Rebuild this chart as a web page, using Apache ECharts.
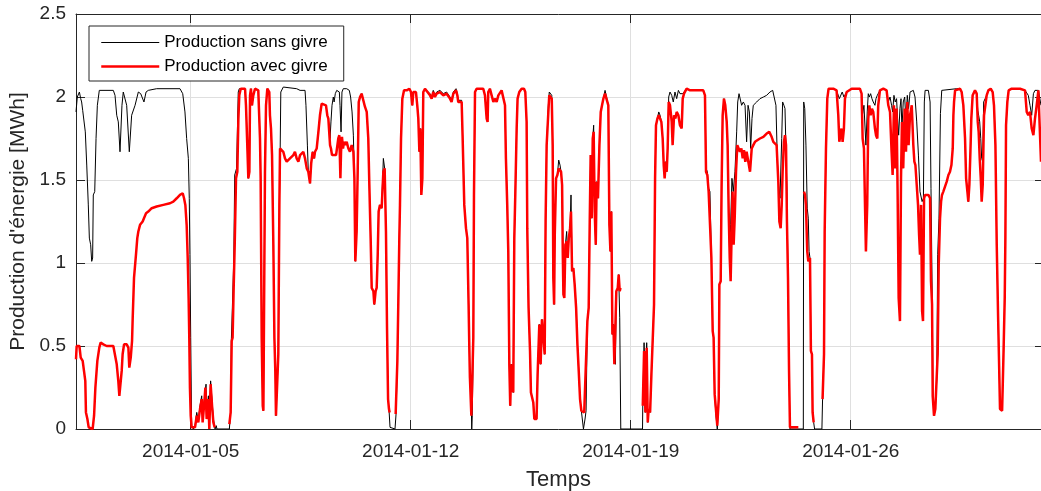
<!DOCTYPE html>
<html>
<head>
<meta charset="utf-8">
<script src="https://cdn.jsdelivr.net/npm/echarts@6/dist/echarts.min.js"></script>
<style>html,body{margin:0;padding:0;background:#fff}#c{width:1041px;height:491px}</style>
</head>
<body>
<div id="c"></div>
<script>
// Hours since 2014-01-01 00:00, value in MWh
const tickDates = ['2014-01-05', '2014-01-12', '2014-01-19', '2014-01-26'];
const yTicks = [0, 0.5, 1, 1.5, 2, 2.5];

const sansGivre = [
[8.4,1.91],[9.4,2.00],[11.0,2.03],[12.0,1.99],[12.7,1.97],[13.5,1.92],[14.8,1.91],[15.5,1.79],[16.6,1.59],[17.8,1.35],[18.6,1.15],[19.6,1.11],[20.4,1.01],[21.1,1.03],[21.6,1.41],[22.7,1.43],[23.7,1.75],[24.7,1.95],[26.2,2.04],[36.9,2.04],[38.2,2.01],[39.5,1.89],[40.7,1.85],[42.0,1.67],[42.8,1.66],[43.5,1.95],[44.5,2.03],[45.8,2.02],[47.1,1.95],[48.4,1.95],[49.1,1.67],[49.9,1.67],[50.9,1.89],[53.5,1.95],[56.0,2.03],[57.8,2.02],[59.3,2.01],[60.3,1.97],[61.9,2.03],[63.6,2.04],[70.0,2.05],[87.8,2.05],[89.9,2.02],[91.6,1.91],[92.9,1.75],[94.2,1.63],[94.9,1.39],[95.4,1.05],[96.0,0.55],[96.7,0.02],[98.0,0],
[99.3,0.02],[100.6,0.10],[101.8,0.05],[103.1,0.14],[104.4,0.20],[105.1,0.05],[106.2,0.16],[107.7,0.27],[108.2,0.08],[109.5,0.20],[110.2,0.01],[111.2,0.29],[112.3,0.30],[113.3,0.06],[114.6,0],[115.5,0.02],[116.0,0],[125.5,0],[126.5,0.10],[127.0,0.53],[127.8,0.73],[128.9,1.03],[129.6,1.53],[131.0,1.57],[132.3,2.03],[133.1,2.05],[137.5,2.05],[138.2,1.95],[139.2,1.71],[140.0,1.51],[140.8,1.55],[141.3,2.01],[142.0,2.05],[142.8,1.95],[143.8,2.01],[145.1,2.05],[147.6,2.04],[148.9,1.75],[149.4,1.51],[150.2,0.55],[151.0,0.14],[151.5,0.11],[152.0,0.12],[152.7,1.55],[153.5,1.95],[154.5,2.05],[156.0,2.03],[156.5,1.89],[157.3,1.81],[158.1,1.65],[159.1,1.11],[159.9,0.55],[160.6,0.35],[161.1,0.08],[162.4,0.08],[162.9,0.45],[163.7,1.35],[164.2,1.60],[164.8,2.03],[165.5,2.04],[166.7,2.06],[176.9,2.05],[179.5,2.04],[183.3,2.04],[184.0,1.95],[185.1,1.71],[185.8,1.55],[187.1,1.48],
[188.0,1.60],[189.1,1.67],[190.2,1.63],[190.9,1.67],[192.2,1.69],[193.5,1.79],[194.7,1.89],[196.0,1.96],[197.3,1.97],[199.3,1.95],[200.3,1.89],[201.1,1.87],[202.4,1.75],[203.1,1.85],[203.9,1.95],[204.9,2.00],[205.5,1.97],[206.4,2.02],[207.5,2.04],[208.7,2.05],[209.5,2.03],[210.0,1.95],[210.8,1.79],[211.5,2.03],[212.5,2.05],[215.1,2.05],[217.1,2.04],[218.1,2.00],[219.2,1.91],[220.2,1.77],[221.0,1.51],[221.7,1.01],[222.7,1.19],[223.5,1.55],[224.3,1.97],[225.3,2.00],[226.5,2.02],[227.8,2.01],[229.1,1.94],[230.4,1.91],[231.6,1.75],[232.4,1.47],[233.4,1.15],[234.2,0.85],[235.5,0.83],[236.2,0.75],[237.2,0.83],[238.0,0.85],[238.8,1.05],[239.5,1.31],[240.5,1.35],[241.8,1.33],[243.1,1.63],[244.1,1.57],[245.1,1.19],[245.9,0.61],[246.7,0.18],[247.4,0.12],[248.2,0.01],[252.0,0],[252.8,0.09],[253.8,0.41],[254.5,0.75],[255.3,1.15],[255.8,1.35],[256.6,1.75],[257.6,1.99],[258.9,2.04],[260.9,2.04],[263.0,2.05],[264.2,2.03],[265.2,1.95],[266.0,2.03],[268.0,2.03],[269.0,1.95],[269.8,1.87],[270.6,1.67],[271.3,1.81],[272.1,1.41],[272.9,1.51],[273.6,2.03],[274.9,2.05],
[278.7,2.02],[280.0,2.00],[281.2,2.04],[282.5,2.01],[283.8,2.03],[286.3,2.04],[288.9,2.02],[291.4,2.03],[294.0,2.00],[295.2,1.98],[296.5,2.03],[298.6,2.05],[299.6,2.02],[300.3,1.98],[301.6,1.97],[302.9,1.98],[303.6,1.77],[304.9,1.35],[306.2,1.21],[307.2,1.15],[308.2,0.75],[308.7,0.51],[309.2,0.31],[310.3,0.12],[310.6,0],[311.0,0.08],[311.8,0.55],[312.3,1.41],[313.1,2.03],[314.3,2.05],[319.4,2.05],[320.7,2.01],[322.0,1.87],[322.7,1.85],[323.2,2.03],[324.5,2.05],[325.8,2.01],[327.1,1.97],[328.3,1.99],[329.6,1.97],[330.9,2.01],[332.1,2.02],[333.4,2.04],[334.7,2.03],[336.0,1.95],[336.7,1.63],[337.7,1.35],[338.5,1.07],[339.3,0.39],[340.0,0.14],[340.8,0.39],[341.6,0.27],[342.3,0.22],[343.1,1.15],[343.9,1.43],[344.9,1.81],[345.6,1.99],[346.9,2.03],[348.7,2.05],[350.5,2.05],[351.5,2.03],[352.5,1.85],[353.0,1.21],[354.0,0.73],[355.1,0.47],[355.8,0.22],[357.6,0.16],[358.4,0.06],[360.1,0.06],[360.9,0.33],[362.2,0.63],[363.2,0.39],[364.2,0.66],[365.2,0.65],[366.3,0.45],[367.0,1.25],[367.8,1.71],[369.1,1.95],[369.8,2.03],
[370.4,2.03],[371.7,2.01],[372.4,1.71],[372.9,0.91],[373.5,0.75],[374.0,1.17],[375.0,1.51],[376.0,1.53],[377.0,1.62],[378.0,1.59],[378.8,1.55],[379.6,1.47],[380.1,1.07],[380.6,0.81],[381.3,0.79],[382.1,1.11],[383.1,1.19],[383.9,1.03],[384.7,1.15],[385.7,1.21],[386.4,1.41],[387.2,0.95],[388.2,0.97],[389.2,0.87],[390.3,0.73],[391.3,0.51],[392.3,0.35],[393.3,0.18],[394.3,0.11],[395.1,0.11],[395.9,0],[397.1,0.06],[397.9,0.11],[398.9,0.65],[399.9,0.73],[400.7,1.25],[401.4,1.65],[402.2,1.27],[403.0,1.75],[403.7,1.83],[404.5,1.31],[405.3,1.11],[406.0,1.49],[407.0,1.39],[408.1,1.71],[409.1,1.91],[410.1,1.95],[411.1,1.99],[412.4,2.04],[413.7,2.03],[414.9,1.95],[415.7,1.23],[416.5,1.07],[417.2,1.31],[418.0,0.57],[418.8,0.63],[419.5,0.45],[420.3,0.39],[421.0,0.83],[422.1,0.85],[422.8,0.93],[423.6,0.67],[424.4,0],[441.0,0],[441.2,0.14],[442.2,0.52],[443.2,0.10],[444.2,0.52],[445.0,0.04],[445.7,0.12],[446.8,0.10],[447.8,0.33],[448.8,0.33],[449.8,0.75],[450.6,1.51],[451.3,1.83],[452.4,1.87],[453.4,1.91],[454.4,1.89],[455.4,1.85],[456.4,1.75],[457.2,1.59],[457.9,1.53],[458.7,1.61],[459.5,1.55],[460.2,1.69],[461.0,2.00],
[462.0,2.03],[463.3,2.01],[464.5,1.97],[465.8,2.03],[467.1,1.99],[468.4,2.04],[469.6,2.02],[470.9,2.01],[471.7,2.02],[472.7,2.03],[474.7,2.05],[476.0,2.05],[477.3,2.04],[487.4,2.04],[488.7,2.01],[489.5,1.57],[490.5,1.55],[491.5,1.45],[492.5,1.43],[493.6,1.03],[494.6,0.59],[495.3,0.55],[496.1,0.21],[497.1,0.08],[498.1,0],[499.2,0.18],[499.7,0.87],[500.7,0.89],[501.4,1.47],[502.2,1.89],[503.2,1.99],[504.2,1.95],[505.3,1.85],[506.0,1.71],[506.8,1.31],[507.6,1.03],[508.3,1.23],[509.3,1.51],[510.3,1.43],[511.6,1.55],[512.9,1.79],[513.7,1.97],[514.7,2.02],[515.4,2.01],[516.7,1.95],[518.0,1.97],[519.3,1.95],[520.5,1.73],[521.6,1.95],[522.6,1.91],[523.6,1.69],[524.6,1.87],[525.6,1.95],[526.9,1.96],[528.2,1.97],[530.7,1.99],[533.3,2.00],[535.8,2.01],[538.3,2.03],[540.4,2.04],[541.7,2.03],[542.9,1.95],[544.0,1.61],[545.0,1.47],[546.0,1.39],[547.3,1.75],[548.0,1.97],[549.0,1.95],[549.8,1.93],[550.6,1.67],[551.3,1.43],[552.1,0.91],[552.9,0.35],[553.6,0],
[563.8,0],[564.1,1.97],[564.9,1.93],[565.8,1.71],[566.8,1.33],[567.6,1.27],[568.2,1.07],[568.9,1.03],[569.6,0.47],[570.4,0.45],[570.9,0.10],[571.7,0.04],[572.4,0],[578.0,0],[578.5,0.18],[579.6,0.45],[580.1,1.19],[581.1,1.69],[582.1,1.99],[583.1,2.05],[586.7,2.05],[589.2,2.04],[590.5,2.03],[591.3,1.99],[592.3,2.00],[593.5,2.03],[594.8,2.00],[595.6,2.01],[596.9,2.03],[598.1,2.04],[600.7,2.05],[607.0,2.05],[608.3,2.02],[609.1,1.90],[610.1,1.95],[610.9,1.95],[611.6,1.71],[612.6,1.91],[613.4,2.02],[614.2,2.00],[615.2,2.02],[616.2,1.99],[617.2,1.97],[618.5,1.95],[619.3,1.99],[620.3,2.01],[621.0,2.02],[622.3,2.04],[624.9,2.05],[627.4,2.04],[628.7,1.97],[630.0,2.00],[631.2,1.95],[632.0,1.91],[633.0,2.01],[634.0,1.97],[635.0,1.99],[635.8,1.87],[636.6,1.77],[637.6,1.93],[638.4,1.99],[639.1,1.81],[640.1,1.97],[641.2,2.00],[642.2,1.85],[643.2,2.01],[644.2,1.93],
[645.3,2.03],[647.8,2.04],[649.1,2.00],[650.4,1.85],[651.7,1.65],[652.9,1.43],[654.5,1.37],[655.5,1.39],[656.2,1.97],[656.8,2.04],[659.3,2.04],[660.6,1.97],[661.3,1.45],[662.3,0.75],[662.8,0.20],[663.6,0.08],[664.6,0.12],[665.7,0.30],[666.4,1.05],[667.4,1.27],[668.5,1.90],[669.5,2.04],[670.7,2.05],[680.9,2.05],[683.5,2.05],[684.7,2.03],[686.0,1.95],[687.3,1.75],[688.1,1.51],[689.1,1.43],[689.8,1.37],[690.6,1.47],[691.4,1.67],[692.1,1.87],[693.1,2.01],[694.9,2.04],[696.2,2.02],[697.0,1.92],[697.7,1.89],[698.5,1.85],[699.3,1.75],[700.0,1.63],[700.8,1.61],[701.5,1.97],[702.8,1.98],[703.8,2.01],[705.1,2.04],[706.9,2.05],[708.4,2.03],[709.4,1.95],[710.5,1.71],[711.5,1.11],[712.5,0.69],[713.3,0.39],[714.0,0.12],[715.6,0.11],[716.6,0.43],[717.6,0.79],[718.1,1.15],[718.6,1.83],[719.6,1.97],[720.6,2.04],[722.9,2.05],[729.3,2.05],[733.1,2.04],[734.4,2.03],[735.6,2.01],[736.9,1.95],[738.2,1.89],[739.5,2.02],[740.7,2.04],[742.0,2.03],[743.3,2.04],[744.6,2.03],[745.3,1.95]
];

const avecGivre = [
[8.4,0.42],[8.9,0.50],[11.0,0.50],[12.0,0.43],[13.5,0.41],[14.5,0.35],[15.5,0.29],[16.0,0.10],[17.1,0.06],[18.1,0.01],[19.1,0],[21.1,0],[22.2,0.08],[23.2,0.25],[24.7,0.41],[26.2,0.49],[27.2,0.52],[29.3,0.51],[31.8,0.50],[36.9,0.50],[38.4,0.49],[39.5,0.39],[40.7,0.29],[41.5,0.20],[42.5,0.19],[43.3,0.35],[44.0,0.45],[45.1,0.51],[47.1,0.51],[48.4,0.49],[49.1,0.37],[50.2,0.43],[51.2,0.53],[51.7,0.67],[52.7,0.91],[54.2,1.05],[55.2,1.15],[56.0,1.19],[57.3,1.23],[59.3,1.25],[60.3,1.27],[61.9,1.30],[63.6,1.31],[66.2,1.33],[70.0,1.34],[75.1,1.35],[80.2,1.36],[82.7,1.37],[85.3,1.39],[87.8,1.41],[89.9,1.42],[90.9,1.39],[91.9,1.35],[92.9,1.23],[93.7,1.03],[94.4,0.79],[94.9,0.55],[95.4,0.25],[96.0,0.08],[96.7,0.01],
[98.0,0],[99.3,0.01],[100.6,0.08],[101.8,0.04],[103.1,0.12],[104.4,0.18],[105.1,0.04],[106.2,0.14],[107.2,0.25],[108.2,0.06],[109.5,0.18],[110.2,0],[111.2,0.27],[112.3,0.14],[113.3,0.04],[114.3,0.01],[115.0,null],[125.5,0.03],[126.5,0.10],[127.3,0.53],[128.0,0.55],[128.8,0.85],[129.6,1.11],[130.6,1.51],[131.6,1.55],[132.4,1.87],[133.1,2.01],[134.2,2.05],[137.5,2.05],[138.2,1.95],[139.2,1.71],[140.0,1.51],[140.8,1.55],[141.3,2.01],[142.0,2.05],[142.8,1.95],[143.8,2.01],[145.1,2.05],[147.6,2.04],[148.9,1.75],[149.4,1.51],[150.2,0.55],[151.0,0.14],[151.5,0.11],[152.0,0.12],[152.7,1.55],[153.5,1.95],[154.5,2.05],[156.0,2.03],[156.5,1.89],[157.3,1.81],[158.1,1.65],[159.1,1.11],[159.9,0.55],[160.6,0.35],[161.1,0.08],[162.4,0.08],[162.9,0.45],[163.7,1.35],[164.2,1.69],[165.5,1.69],[166.7,1.67],[168.0,1.63],[169.3,1.61],[171.8,1.63],[174.4,1.65],[175.6,1.67],[176.9,1.63],[178.2,1.61],[179.5,1.65],[182.0,1.67],[183.3,1.63],[184.6,1.57],[185.8,1.55],[187.1,1.48],
[188.0,1.60],[189.1,1.67],[190.2,1.63],[190.9,1.67],[192.2,1.69],[193.5,1.79],[194.7,1.89],[196.0,1.96],[197.3,1.97],[199.3,1.95],[200.3,1.89],[201.1,1.87],[202.4,1.71],[203.1,1.69],[203.9,1.65],[205.4,1.64],[207.0,1.65],[208.0,1.66],[208.7,1.75],[209.5,1.77],[210.3,1.51],[210.8,1.67],[211.5,1.76],[212.3,1.69],[213.1,1.73],[214.1,1.71],[215.1,1.73],[216.4,1.69],[217.6,1.67],[218.9,1.71],[220.2,1.67],[221.0,1.51],[221.7,1.01],[222.7,1.19],[223.5,1.55],[224.3,1.97],[225.3,2.00],[226.5,2.02],[227.8,2.01],[229.1,1.94],[230.4,1.91],[231.6,1.75],[232.4,1.47],[233.4,1.15],[234.2,0.85],[235.5,0.83],[236.2,0.75],[237.2,0.83],[238.0,0.85],[238.8,1.05],[239.5,1.31],[240.5,1.35],[241.8,1.33],[243.1,1.55],[244.1,1.57],[245.1,1.19],[245.9,0.61],[246.7,0.18],[247.4,0.12],[247.9,0.10],[248.5,null],[252.5,0.09],[252.8,0.09],[253.8,0.41],[254.5,0.75],[255.3,1.15],[255.8,1.35],[256.6,1.75],[257.6,1.99],[258.9,2.04],[260.9,2.04],[263.0,2.05],[264.2,2.03],[265.2,1.95],[266.0,2.03],[268.0,2.03],[269.0,1.95],[269.8,1.87],[270.6,1.67],[271.3,1.81],[272.1,1.41],[272.9,1.51],[273.6,2.03],[274.9,2.05],
[278.7,2.01],[280.0,1.99],[281.2,2.03],[282.5,2.00],[283.8,2.02],[286.3,2.03],[288.9,2.01],[291.4,2.02],[294.0,1.99],[295.2,1.97],[296.5,2.02],[298.6,2.04],[299.6,2.01],[300.3,1.97],[301.6,1.96],[302.9,1.97],[303.6,1.77],[304.9,1.35],[306.2,1.21],[307.2,1.15],[308.2,0.75],[308.7,0.51],[309.2,0.31],[310.3,0.08],[311.0,0.08],[311.8,0.55],[312.3,1.41],[313.1,2.03],[314.3,2.05],[319.4,2.05],[320.7,2.01],[322.0,1.87],[322.7,1.85],[323.2,2.03],[324.5,2.05],[325.8,2.01],[327.1,1.97],[328.3,1.99],[329.6,1.97],[330.9,2.01],[332.1,2.02],[333.4,2.04],[334.7,2.03],[336.0,1.95],[336.7,1.63],[337.7,1.35],[338.5,1.07],[339.3,0.39],[340.0,0.14],[340.8,0.39],[341.6,0.27],[342.3,0.22],[343.1,1.15],[343.9,1.43],[344.9,1.81],[345.6,1.99],[346.9,2.03],[348.7,2.05],[350.5,2.05],[351.5,2.03],[352.5,1.85],[353.0,1.21],[354.0,0.73],[355.1,0.47],[355.8,0.22],[357.6,0.16],[358.4,0.06],[360.1,0.06],[360.9,0.33],[362.2,0.63],[363.2,0.39],[364.2,0.66],[365.2,0.65],[366.3,0.45],[367.0,1.25],[367.8,1.71],[369.1,1.91],[369.8,2.01],
[370.4,2.00],[371.7,1.99],[372.4,1.71],[372.9,0.91],[373.5,0.75],[374.0,1.17],[375.0,1.51],[376.0,1.53],[377.0,1.57],[378.0,1.57],[378.8,1.55],[379.6,1.47],[380.1,1.07],[380.6,0.81],[381.3,0.79],[382.1,1.11],[383.1,1.13],[383.9,1.03],[384.7,1.15],[385.7,1.21],[386.4,1.31],[387.2,0.95],[388.2,0.97],[389.2,0.87],[390.3,0.73],[391.3,0.51],[392.3,0.35],[393.3,0.18],[394.3,0.11],[395.1,0.11],[396.5,0.10],[397.9,0.11],[398.9,0.65],[399.9,0.73],[400.7,1.25],[401.4,1.65],[402.2,1.27],[403.0,1.75],[403.7,1.79],[404.5,1.31],[405.3,1.11],[406.0,1.49],[407.0,1.39],[408.1,1.71],[409.1,1.91],[410.1,1.95],[411.1,1.99],[412.4,2.02],[413.7,2.02],[414.9,1.95],[415.7,1.23],[416.5,1.07],[417.2,1.31],[418.0,0.57],[418.8,0.63],[419.5,0.39],[420.3,0.39],[421.0,0.83],[422.1,0.85],[422.8,0.93],[423.6,0.83],[424.2,0.85],[424.5,null],[441.2,0.14],[442.2,0.47],[443.2,0.10],[444.2,0.49],[445.0,0.04],[445.7,0.12],[446.8,0.10],[447.8,0.33],[448.8,0.33],[449.8,0.75],[450.6,1.51],[451.3,1.83],[452.4,1.87],[453.4,1.89],[454.4,1.87],[455.4,1.85],[456.4,1.75],[457.2,1.59],[457.9,1.51],[458.7,1.61],[459.5,1.55],[460.2,1.69],[461.0,1.97],
[462.0,1.95],[463.3,1.85],[464.0,1.71],[465.1,1.89],[466.1,1.87],[467.1,1.91],[468.4,1.89],[469.6,1.83],[470.9,1.81],[471.7,1.99],[472.7,2.02],[474.7,2.05],[476.0,2.05],[477.3,2.04],[487.4,2.04],[488.7,2.01],[489.5,1.55],[490.5,1.53],[491.5,1.43],[492.5,1.43],[493.6,1.03],[494.6,0.59],[495.3,0.55],[496.1,0.21],[497.1,0.21],[498.1,0.02],[499.2,0.18],[499.7,0.87],[500.7,0.89],[501.4,1.47],[502.2,1.89],[503.2,1.99],[504.2,1.95],[505.3,1.85],[506.0,1.71],[506.8,1.31],[507.6,1.03],[508.3,0.89],[509.1,1.19],[509.8,1.43],[510.6,1.11],[511.4,1.27],[512.4,1.55],[513.4,1.71],[514.4,1.69],[515.4,1.67],[516.5,1.69],[517.5,1.63],[518.5,1.68],[519.5,1.61],[520.5,1.67],[521.8,1.61],[523.1,1.55],[524.4,1.69],[525.6,1.71],[526.9,1.73],[528.2,1.74],[530.7,1.75],[533.3,1.76],[535.8,1.78],[537.8,1.79],[539.6,1.76],[540.9,1.73],[542.2,1.72],[543.4,1.71],[544.7,1.49],[545.5,1.25],[546.5,1.21],[547.3,1.35],[548.0,1.55],[549.0,1.73],[549.8,1.77],[550.6,1.71],[551.3,1.25],[552.1,0.91],[552.9,0.35],[553.6,0.01],[557.0,0.01],[560.0,0.01],[560.5,null],
[564.3,1.43],[565.1,1.41],[565.8,1.35],[566.8,1.07],[567.6,1.01],[568.9,1.03],[569.6,0.47],[570.4,0.45],[570.9,0.10],[571.7,0.04],[572.0,null],[578.5,0.18],[579.6,0.45],[580.1,1.19],[581.1,1.69],[582.1,1.99],[583.1,2.05],[586.7,2.05],[589.2,2.04],[590.5,1.89],[591.3,1.73],[592.3,1.73],[593.0,1.81],[593.8,1.73],[594.8,1.81],[595.6,1.99],[596.9,2.03],[598.1,2.04],[600.7,2.05],[607.0,2.05],[608.3,2.02],[609.1,1.75],[610.1,1.69],[610.9,1.35],[611.6,1.07],[612.6,1.35],[613.4,1.87],[614.2,1.95],[615.2,1.89],[616.2,1.93],[617.2,1.91],[618.5,1.81],[619.3,1.77],[620.3,1.75],[621.0,1.95],[622.3,2.04],[624.9,2.05],[627.4,2.04],[628.7,1.95],[630.0,1.91],[631.2,1.67],[632.0,1.53],[633.0,1.95],[634.0,1.57],[635.0,1.93],[635.8,1.43],[636.6,0.79],[637.6,0.65],[638.4,1.51],[639.1,1.85],[640.1,1.57],[641.2,1.93],[642.2,1.67],[643.2,1.97],[644.2,1.71],
[645.3,1.89],[646.6,1.95],[647.8,1.71],[648.6,1.61],[649.4,1.59],[650.4,1.47],[651.4,1.35],[652.2,1.17],[652.9,1.05],[653.7,1.35],[654.5,0.71],[655.2,0.65],[656.0,1.39],[656.8,1.41],[658.0,1.40],[659.3,1.41],[660.6,1.39],[661.3,0.89],[662.1,0.75],[662.6,0.20],[663.6,0.08],[664.6,0.12],[665.7,0.12],[666.4,0.45],[667.2,0.99],[668.2,1.27],[669.0,1.37],[669.7,1.41],[670.7,1.43],[672.0,1.46],[673.3,1.49],[674.6,1.53],[675.8,1.55],[676.9,1.59],[677.9,1.69],[678.4,1.89],[678.9,1.97],[679.7,2.04],[680.9,2.05],[683.5,2.05],[684.7,2.03],[686.0,1.95],[687.3,1.75],[688.1,1.51],[689.1,1.43],[689.8,1.37],[690.6,1.47],[691.4,1.67],[692.1,1.87],[693.1,2.01],[694.9,2.04],[696.2,2.02],[697.0,1.85],[697.7,1.79],[698.5,1.63],[699.3,1.51],[700.0,1.37],[700.8,1.47],[701.8,1.89],[702.8,1.95],[703.8,2.01],[705.1,2.04],[706.9,2.05],[708.4,2.03],[709.4,1.95],[710.5,1.71],[711.5,1.11],[712.5,0.69],[713.3,0.39],[714.0,0.12],[715.6,0.11],[716.6,0.43],[717.6,0.79],[718.1,1.15],[718.6,1.83],[719.6,1.97],[720.6,2.04],[722.9,2.05],[729.3,2.05],[733.1,2.04],[734.4,1.91],[735.6,1.89],[736.9,1.91],[738.2,1.81],[739.5,1.77],[740.7,1.87],[742.0,1.95],[743.3,2.04],[744.6,2.03],[745.3,1.61]
];

const T0 = Date.UTC(2014, 0, 1);
const HOUR = 3600000;
const tickHours = tickDates.map(d => (Date.parse(d + 'T00:00:00Z') - T0) / HOUR);
const fmtDate = v => new Date(T0 + v * HOUR).toISOString().slice(0, 10);

const AX = '#262626';
const FONT = 'Liberation Sans, Arial, Helvetica, sans-serif';

const chart = echarts.init(document.getElementById('c'), null, {renderer: 'canvas'});
chart.setOption({
  animation: false,
  backgroundColor: '#ffffff',
  grid: {left: 76, right: 0, top: 14, bottom: 62, containLabel: false, outerBoundsMode: 'none'},
  legend: {
    data: [
      {name: 'Production sans givre', itemStyle: {color: 'rgba(0,0,0,0)', borderWidth: 0, opacity: 0}, lineStyle: {color: '#000000', width: 1}},
      {name: 'Production avec givre', itemStyle: {color: 'rgba(0,0,0,0)', borderWidth: 0, opacity: 0}, lineStyle: {color: '#ff0000', width: 2.5}}
    ],
    orient: 'vertical',
    left: 89, top: 26,
    itemWidth: 58, itemHeight: 14, itemGap: 7,
    padding: [8, 16, 6, 11],
    borderColor: AX, borderWidth: 1,
    backgroundColor: '#ffffff',
    textStyle: {fontFamily: FONT, fontSize: 17, color: '#000', lineHeight: 17}
  },
  xAxis: [{
    type: 'value', min: 8.4, max: 745.3,
    name: 'Temps', nameLocation: 'middle', nameGap: 40,
    nameTextStyle: {fontFamily: FONT, fontSize: 22, color: AX},
    axisLine: {show: true, lineStyle: {color: AX, width: 1}},
    axisTick: {show: true, inside: true, length: 9, lineStyle: {color: AX}, customValues: tickHours},
    axisLabel: {show: true, customValues: tickHours, formatter: fmtDate, margin: 13,
      fontFamily: FONT, fontSize: 19, color: AX},
    splitLine: {show: true, lineStyle: {color: '#dfdfdf', width: 1}}
  }, {
    type: 'value', min: 8.4, max: 745.3, position: 'top',
    axisLine: {show: true, onZero: false, lineStyle: {color: AX, width: 1}},
    axisTick: {show: true, inside: true, length: 9, lineStyle: {color: AX}, customValues: tickHours},
    axisLabel: {show: false},
    splitLine: {show: false}
  }],
  yAxis: [{
    type: 'value', min: 0, max: 2.5, interval: 0.5,
    name: "Production d'énergie [MWh]", nameLocation: 'middle', nameGap: 42, nameRotate: 90,
    nameTextStyle: {fontFamily: FONT, fontSize: 21, color: AX},
    axisLine: {show: true, lineStyle: {color: AX, width: 1}},
    axisTick: {show: true, inside: true, length: 9, lineStyle: {color: AX}},
    axisLabel: {margin: 10, fontFamily: FONT, fontSize: 19, color: AX,
      formatter: v => String(yTicks.find(t => Math.abs(t - v) < 1e-9) ?? v)},
    splitLine: {show: true, lineStyle: {color: '#dfdfdf', width: 1}}
  }, {
    type: 'value', min: 0, max: 2.5, interval: 0.5, position: 'right',
    axisLine: {show: true, onZero: false, lineStyle: {color: AX, width: 1}},
    axisTick: {show: true, inside: true, length: 6, lineStyle: {color: AX}},
    axisLabel: {show: false},
    splitLine: {show: false}
  }],
  series: [{
    name: 'Production sans givre', type: 'line', xAxisIndex: 0, yAxisIndex: 0,
    data: sansGivre, symbol: 'none', showSymbol: false, connectNulls: false,
    lineStyle: {color: '#000000', width: 1}, itemStyle: {color: '#000000'}, z: 2
  }, {
    name: 'Production avec givre', type: 'line', xAxisIndex: 0, yAxisIndex: 0,
    data: avecGivre, symbol: 'none', showSymbol: false, connectNulls: false,
    lineStyle: {color: '#ff0000', width: 2.5}, itemStyle: {color: '#ff0000'}, z: 3
  }]
});
</script>
</body>
</html>
